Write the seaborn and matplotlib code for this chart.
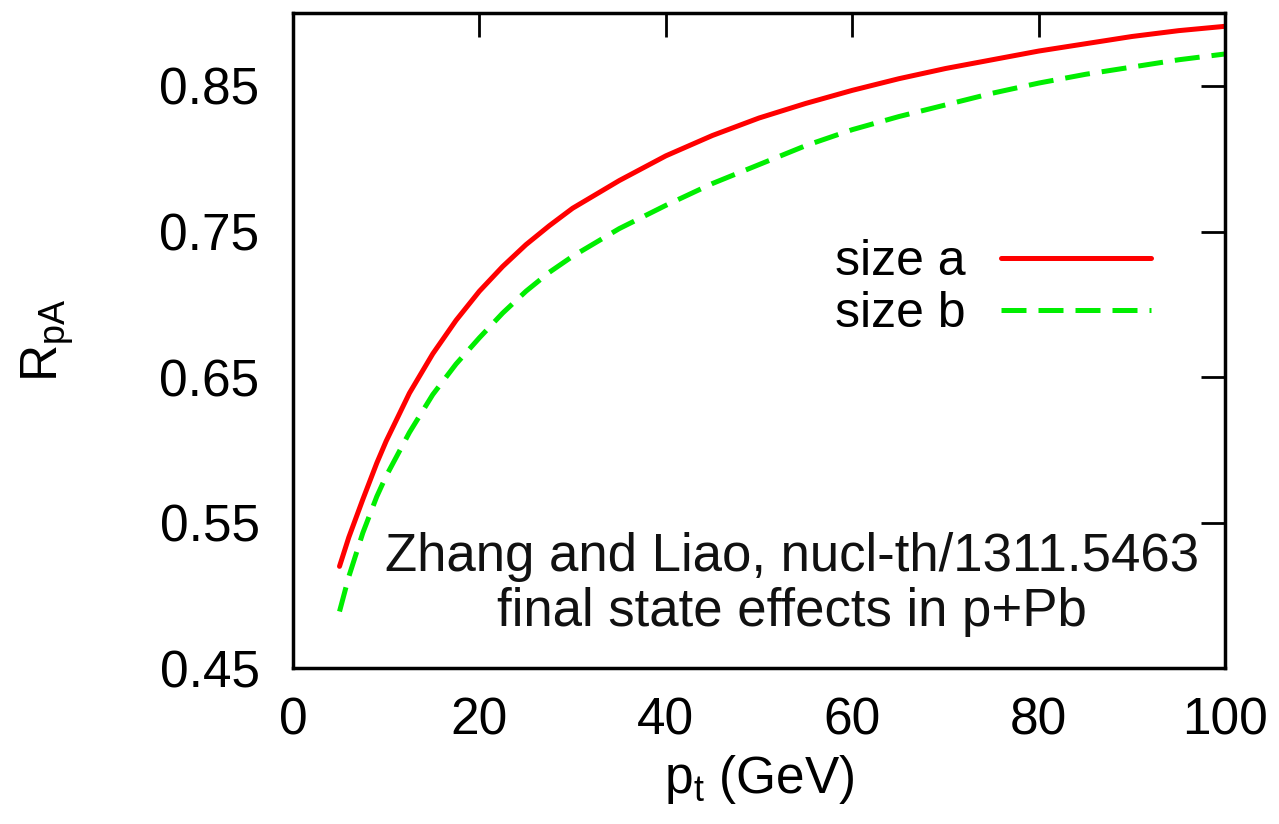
import matplotlib
matplotlib.use("Agg")
import matplotlib.pyplot as plt
import seaborn as sns
import pandas as pd
from matplotlib.lines import Line2D

pt = [5, 6, 7.5, 9, 10, 12.5, 15, 17.5, 20, 22.5, 25, 27.5, 30, 35, 40, 45, 50,
      55, 60, 65, 70, 75, 80, 85, 90, 95, 100]
size_a = [0.520, 0.540, 0.566, 0.591, 0.606, 0.639, 0.666, 0.689, 0.709, 0.726, 0.741,
          0.754, 0.766, 0.785, 0.802, 0.816, 0.828, 0.838, 0.847, 0.855, 0.862, 0.868,
          0.874, 0.879, 0.884, 0.888, 0.891]
size_b = [0.489, 0.513, 0.543, 0.568, 0.582, 0.612, 0.638, 0.659, 0.677, 0.694, 0.709,
          0.722, 0.733, 0.752, 0.768, 0.783, 0.796, 0.809, 0.820, 0.829, 0.837, 0.845,
          0.852, 0.858, 0.863, 0.868, 0.872]
series_names = ["size a", "size b"]
x_ticks = [0, 20, 40, 60, 80, 100]
y_ticks = [0.45, 0.55, 0.65, 0.75, 0.85]

df = pd.DataFrame({
    "pt": pt * 2,
    "R": size_a + size_b,
    "series": [series_names[0]] * len(pt) + [series_names[1]] * len(pt),
})

sns.set_theme(style="white")
plt.rcParams["font.family"] = ["Liberation Sans", "DejaVu Sans"]
plt.rcParams["mathtext.fontset"] = "custom"
plt.rcParams["mathtext.rm"] = "Liberation Sans"
plt.rcParams["mathtext.it"] = "Liberation Sans"
plt.rcParams["text.color"] = "black"
plt.rcParams["axes.labelcolor"] = "black"

fig = plt.figure(figsize=(12.79, 8.24), dpi=100)
ax = fig.add_axes([0.229, 0.189, 0.729, 0.795])

DASH = (5.0, 2.4)
sns.lineplot(data=df, x="pt", y="R", hue="series", style="series",
             palette={"size a": "#ff0000", "size b": "#00ee00"},
             dashes={"size a": "", "size b": DASH},
             linewidth=3.6, ax=ax, legend=False)

ax.set_xlim(0, 100)
ax.set_ylim(0.45, 0.9)
ax.set_xticks(x_ticks)
ax.set_xticklabels([str(t) for t in x_ticks])
ax.set_yticks(y_ticks)
ax.set_yticklabels([f"{t:.2f}" for t in y_ticks])
ax.tick_params(axis="both", which="both", direction="in", length=17, width=2,
               top=True, right=True, labelsize=37, color="black", labelcolor="black")
ax.tick_params(axis="x", pad=20)
ax.tick_params(axis="y", pad=24)
for sp in ax.spines.values():
    sp.set_linewidth(2.5)
    sp.set_color("black")

ax.set_xlabel("p$_\\mathregular{t}$ (GeV)", fontsize=37, labelpad=6)
ax.set_ylabel("R$_\\mathregular{pA}$", fontsize=37, labelpad=60)

handles = [Line2D([], [], color="#ff0000", lw=3.6),
           Line2D([], [], color="#00ee00", lw=3.6, dashes=DASH)]
ax.legend(handles, series_names, loc="upper right", bbox_to_anchor=(0.92, 0.655),
          frameon=False, markerfirst=False, fontsize=36, handlelength=3.0,
          handletextpad=0.7, labelspacing=0.12, borderaxespad=0, borderpad=0)

ax.text(0.535, 0.128, "Zhang and Liao, nucl-th/1311.5463\nfinal state effects in p+Pb",
        transform=ax.transAxes, ha="center", va="center", multialignment="center",
        fontsize=38, linespacing=1.12, color="#111111")

fig.savefig("out.png", dpi=100)
